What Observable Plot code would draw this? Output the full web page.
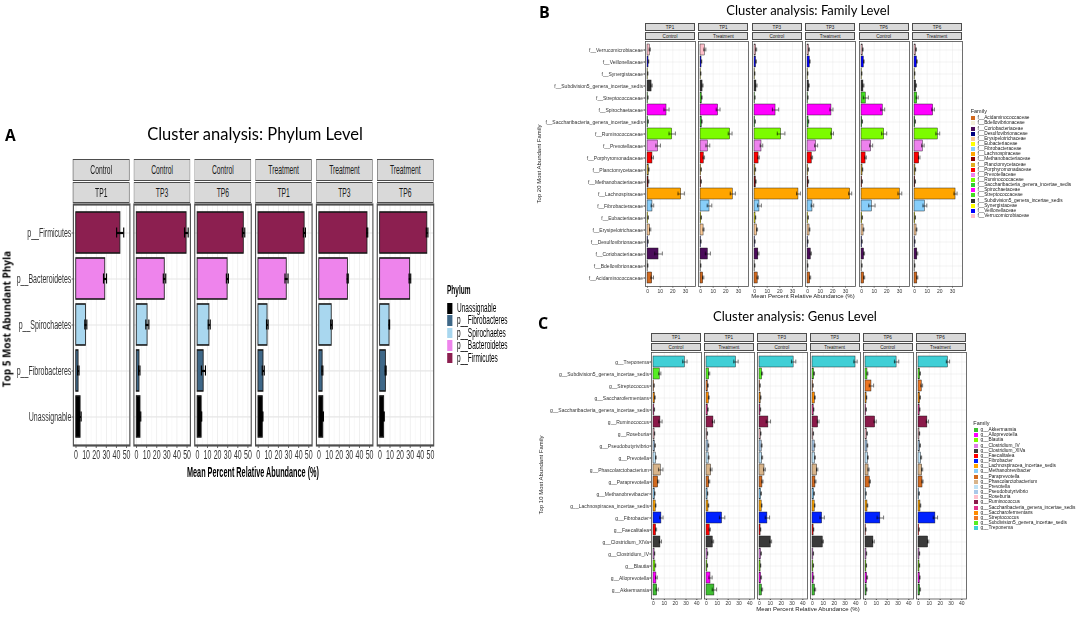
<!DOCTYPE html>
<html><head><meta charset="utf-8">
<script src="https://cdn.jsdelivr.net/npm/d3@7"></script>
<script src="https://cdn.jsdelivr.net/npm/@observablehq/plot@0.6"></script>
<style>
html,body{margin:0;padding:0;background:#fff}
body{width:1084px;height:617px;overflow:hidden;position:relative;font-family:"Liberation Sans",Arial,sans-serif;color:#1a1a1a}
.strip{position:absolute;box-sizing:border-box;border:1px solid #4d4d4d;background:#d9d9d9;text-align:center;white-space:nowrap;color:#1a1a1a}
.c{position:absolute;transform:translate(-50%,-50%);white-space:nowrap}
.rot{position:absolute;transform:translate(-50%,-50%) rotate(-90deg);white-space:nowrap}
.lg{position:absolute;white-space:nowrap}
</style></head><body>
<script>
// ---------------- DATA ----------------
const phylumFacetGroup = ["Control","Control","Control","Treatment","Treatment","Treatment"];
const phylumFacetTime  = ["TP1","TP3","TP6","TP1","TP3","TP6"];
const lowerFacetTime   = ["TP1","TP1","TP3","TP3","TP6","TP6"];
const lowerFacetGroup  = ["Control","Treatment","Control","Treatment","Control","Treatment"];

const phylumTicks = [0,10,20,30,40,50];
const phylumMinor = [5,15,25,35,45];
const familyTicks = [0,10,20,30];
const familyMinor = [5,15,25,35];
const genusTicks  = [0,10,20,30,40];
const genusMinor  = [5,15,25,35];

// Phylum (legend order)
const phyla = ["Unassignable","p__Fibrobacteres","p__Spirochaetes","p__Bacteroidetes","p__Firmicutes"];
const phylumColors = ["#000000","#3f6888","#a9d7ef","#ee84ec","#8c1f50"];
// rows: facets (Control TP1, TP3, TP6, Treatment TP1, TP3, TP6); columns: phyla
const phylumMean = [
  [4.3, 2.3, 9.7, 28.7, 43.7],
  [3.7, 2.7, 10.7, 27.7, 49.3],
  [4.0, 6.0, 11.7, 29.7, 45.7],
  [4.3, 5.0, 9.0, 28.0, 45.7],
  [4.0, 3.3, 12.3, 28.3, 47.7],
  [4.0, 5.7, 9.3, 29.7, 46.7]
];
const phylumErr = [
  [0.8, 0.7, 1.0, 1.5, 3.5],
  [0.5, 0.7, 1.5, 1.2, 1.8],
  [0.3, 2.0, 1.0, 1.0, 1.2],
  [0.4, 1.0, 0.8, 1.5, 1.0],
  [0.3, 0.5, 0.8, 0.6, 0.5],
  [0.3, 0.5, 0.3, 0.8, 0.8]
];

// Family (legend order, alphabetical)
const families = ["f__Acidaminococcaceae","f__Bdellovibrionaceae","f__Coriobacteriaceae","f__Desulfovibrionaceae","f__Erysipelotrichaceae","f__Eubacteriaceae","f__Fibrobacteraceae","f__Lachnospiraceae","f__Methanobacteriaceae","f__Planctomycetaceae","f__Porphyromonadaceae","f__Prevotellaceae","f__Ruminococcaceae","f__Saccharibacteria_genera_incertae_sedis","f__Spirochaetaceae","f__Streptococcaceae","f__Subdivision5_genera_incertae_sedis","f__Synergistaceae","f__Veillonellaceae","f__Verrucomicrobiaceae"];
const familyColors = ["#d2691e","#f3f0d8","#4b0c5a","#000080","#f9c896","#ffff00","#87cefa","#ffa500","#8b0000","#e0b020","#ff0000","#ee82ee","#7cfc00","#32cd32","#ff00ff","#44dd22","#333333","#ffff00","#0000ff","#ffc0cb"];
// rows: facets (TP1 Control, TP1 Treatment, TP3 Control, TP3 Treatment, TP6 Control, TP6 Treatment)
const familyMean = [
  [3.7,0.2,8.7,0.4,2.1,0.5,3.9,26.6,0.8,1.0,3.9,8.4,19.5,0.5,15.0,0.3,3.2,0.2,0.8,1.8],
  [2.1,0.2,5.8,0.3,2.4,0.6,7.1,25.5,0.5,0.5,2.6,5.8,23.4,1.0,13.9,1.0,1.6,0.2,0.8,3.4],
  [2.5,0.2,3.0,0.3,2.0,0.8,3.9,34.7,1.0,0.7,3.2,5.5,21.0,0.5,16.6,0.3,1.5,0.2,1.2,1.3],
  [2.1,0.2,2.6,0.3,1.6,0.5,3.9,33.7,0.7,0.5,3.4,6.8,19.5,0.8,18.9,0.3,1.1,0.2,1.8,1.2],
  [2.1,0.3,2.0,0.4,1.6,0.6,8.2,30.3,0.5,0.8,3.2,7.6,17.9,0.6,16.8,3.4,1.5,0.2,1.8,1.0],
  [2.2,0.2,2.2,0.3,1.6,0.6,8.2,32.4,0.6,0.7,3.7,6.6,18.4,0.6,14.7,2.1,1.3,0.2,1.9,1.2]
];
const familyErr = [
  [1.0,0.1,3.0,0.1,0.5,0.2,1.0,2.5,0.3,0.3,0.8,1.8,2.5,0.2,2.0,0.1,0.5,0.1,0.2,0.5],
  [0.5,0.1,2.0,0.1,0.4,0.2,1.8,2.0,0.2,0.2,0.6,1.5,1.5,0.3,1.5,0.3,0.4,0.1,0.2,0.8],
  [0.5,0.1,0.5,0.1,0.4,0.2,1.5,1.5,0.3,0.2,0.6,1.0,3.0,0.2,2.5,0.1,0.5,0.1,0.2,0.4],
  [0.4,0.1,0.5,0.1,0.3,0.2,1.0,1.2,0.2,0.2,0.6,1.2,1.0,0.2,1.2,0.1,0.3,0.1,0.3,0.3],
  [0.4,0.1,0.4,0.1,0.3,0.2,2.5,1.5,0.2,0.2,0.6,1.2,2.0,0.2,1.5,2.0,0.4,0.1,0.3,0.3],
  [0.4,0.1,0.4,0.1,0.3,0.2,1.5,1.2,0.2,0.2,0.6,1.0,1.5,0.2,1.0,0.8,0.3,0.1,0.3,0.3]
];

// Genus (legend order, alphabetical)
const genera = ["g__Akkermansia","g__Alloprevotella","g__Blautia","g__Clostridium_IV","g__Clostridium_XIVa","g__Faecalitalea","g__Fibrobacter","g__Lachnospiracea_incertae_sedis","g__Methanobrevibacter","g__Paraprevotella","g__Phascolarctobacterium","g__Prevotella","g__Pseudobutyrivibrio","g__Roseburia","g__Ruminococcus","g__Saccharibacteria_genera_incertae_sedis","g__Saccharofermentans","g__Streptococcus","g__Subdivision5_genera_incertae_sedis","g__Treponema"];
const genusColors = ["#3fbf32","#ff00ff","#7cfc00","#e07be8","#3a3a3a","#ff0000","#0022ff","#ffa500","#87cefa","#d2691e","#d8b48a","#bfe2f6","#a8c8e8","#ffc0cb","#8b1a4a","#e0338c","#ff8c00","#ee7722","#55ee22","#40cfd6"];
const genusMean = [
  [3.4,2.7,1.8,1.0,6.4,2.4,7.3,2.0,1.2,4.3,6.7,2.2,1.5,1.0,6.4,0.8,1.3,0.5,5.8,29.0],
  [7.3,3.7,0.8,1.0,5.8,3.0,14.4,1.8,1.0,2.5,4.3,2.0,1.8,0.8,6.4,1.3,2.1,1.3,2.5,27.2],
  [2.3,1.5,1.0,1.5,10.4,1.0,7.3,2.0,1.5,2.7,4.6,2.5,2.0,1.2,8.2,0.9,1.1,0.5,2.4,31.5],
  [2.3,1.0,0.8,0.8,9.5,1.0,8.9,2.0,1.5,2.7,4.3,2.3,2.0,0.8,5.2,1.1,2.2,0.5,1.5,39.7],
  [1.0,1.5,0.8,0.9,7.3,0.3,13.7,1.8,0.5,4.0,2.8,2.2,1.8,1.5,8.9,0.6,1.0,5.5,1.8,28.7],
  [1.5,1.2,0.9,0.9,8.9,0.6,15.6,1.8,0.6,3.7,3.4,2.5,1.5,0.9,8.2,1.1,1.5,3.0,1.5,27.2]
];
const genusErr = [
  [1.0,0.8,0.3,0.2,1.0,0.5,1.5,0.3,0.2,0.6,2.0,0.3,0.3,0.2,1.5,0.2,0.3,0.1,1.0,2.0],
  [2.0,1.5,0.2,0.2,0.8,0.6,2.5,0.3,0.2,0.5,0.8,0.4,0.3,0.2,1.0,0.3,0.4,0.3,0.5,2.0],
  [0.6,0.4,0.2,0.3,0.8,0.2,2.0,0.3,0.3,0.5,0.8,0.4,0.4,0.2,2.0,0.2,0.3,0.1,0.5,2.0],
  [0.6,0.3,0.2,0.2,0.6,0.2,2.0,0.3,0.3,0.5,0.6,0.4,0.4,0.2,0.8,0.2,0.4,0.1,0.3,1.5],
  [0.3,0.4,0.2,0.2,0.8,0.1,3.0,0.3,0.1,0.6,0.5,0.4,0.3,0.3,1.0,0.2,0.2,2.0,0.4,2.0],
  [0.4,0.3,0.2,0.2,0.6,0.2,2.0,0.3,0.2,0.5,0.5,0.4,0.3,0.2,1.0,0.3,0.3,0.8,0.3,1.5]
];

// ---------------- HELPERS ----------------
const FONT = '"Liberation Sans", Arial, sans-serif';
function el(parent, cls, css, text) {
  const d = document.createElement("div");
  if (cls) d.className = cls;
  d.style.position = "absolute";
  Object.assign(d.style, css);
  if (text != null) d.textContent = text;
  parent.appendChild(d);
  return d;
}
function facet(cfg) {
  const {cats, colors, mean, err, xDomain, ticks, minor, w, h, ml, mb, fs, showY,
         capFrac, lwGrid, lwBar, lwErr, lwFrame, tickSize} = cfg;
  const order = cats.slice().reverse();
  const rows = cats.map((c, i) => ({cat: c, v: mean[i], e: err[i]}));
  const n = cats.length;
  const step = h / (n - 0.1 + 0.3);
  const inset = step * 0.9 * (1 - capFrac) / 2;
  return Plot.plot({
    width: ml + w, height: h + mb,
    marginLeft: ml, marginRight: 0, marginTop: 0, marginBottom: mb,
    style: {fontSize: fs + "px", fontFamily: FONT, color: "#333", background: "transparent", overflow: "visible"},
    x: {domain: xDomain, ticks: ticks, tickSize: tickSize, tickPadding: 1, tickFormat: d => String(d), label: null},
    y: {domain: order, paddingInner: 0.1, paddingOuter: 0.15, tickSize: tickSize, tickPadding: 1, label: null, axis: showY ? "left" : null},
    color: {domain: cats, range: colors},
    marks: [
      Plot.frame({fill: "white"}),
      Plot.ruleX(minor, {stroke: "#f3f3f3", strokeWidth: lwGrid * 0.6}),
      Plot.ruleX(ticks, {stroke: "#e6e6e6", strokeWidth: lwGrid}),
      Plot.ruleY(order, {stroke: "#e6e6e6", strokeWidth: lwGrid}),
      Plot.barX(rows, {x1: 0, x2: "v", y: "cat", fill: "cat", stroke: "#1a1a1a", strokeWidth: lwBar}),
      Plot.ruleY(rows, {y: "cat", x1: d => d.v - d.e, x2: d => d.v + d.e, stroke: "#000", strokeWidth: lwErr}),
      Plot.tickX(rows, {y: "cat", x: d => d.v - d.e, insetTop: inset, insetBottom: inset, stroke: "#000", strokeWidth: lwErr}),
      Plot.tickX(rows, {y: "cat", x: d => d.v + d.e, insetTop: inset, insetBottom: inset, stroke: "#000", strokeWidth: lwErr}),
      Plot.frame({stroke: "#4d4d4d", strokeWidth: lwFrame})
    ]
  });
}
function placeSvg(parent, svg, left, top) {
  const d = el(parent, null, {left: left + "px", top: top + "px"});
  d.appendChild(svg);
  return d;
}

const body = document.body;

// ---------------- PANEL A (horizontally condensed, like the source image) ----------------
const S = 0.52;
const A = el(body, null, {left: "0px", top: "0px", width: (540 / S) + "px", height: "617px", transform: `scaleX(${S})`, transformOrigin: "0 0"});
const aLefts = [73, 133.8, 194.6, 255.4, 316.2, 377];
const aW = 56.5, aTop = 203.5, aH = 241;
for (let i = 0; i < 6; i++) {
  const L = aLefts[i] / S, W = aW / S;
  el(A, "strip", {left: L + "px", top: "159.3px", width: W + "px", height: "21.5px", lineHeight: "19.5px", fontSize: "13px", borderWidth: "1.5px"}, phylumFacetGroup[i]);
  el(A, "strip", {left: L + "px", top: "181.6px", width: W + "px", height: "21.7px", lineHeight: "19.7px", fontSize: "13px", borderWidth: "1.5px"}, phylumFacetTime[i]);
  const ml = i === 0 ? 70 / S : 0;
  const svg = facet({cats: phyla, colors: phylumColors, mean: phylumMean[i], err: phylumErr[i],
    xDomain: [-2.6, 53.3], ticks: phylumTicks, minor: phylumMinor, w: W, h: aH, ml, mb: 26, fs: 13.5, showY: i === 0,
    capFrac: 0.26, lwGrid: 1.2, lwBar: 1.6, lwErr: 2.2, lwFrame: 2.2, tickSize: 3});
  placeSvg(A, svg, L - ml, aTop);
}
el(A, "c", {left: (253 / S) + "px", top: "471.5px", fontSize: "14px", fontWeight: "bold", color: "#000"}, "Mean Percent Relative Abundance (%)");
// legend A
el(A, "lg", {left: (447 / S) + "px", top: "283px", fontSize: "12.5px", fontWeight: "bold", color: "#000"}, "Phylum");
phyla.forEach((p, i) => {
  const cy = 308.3 + i * 12.45;
  el(A, "lg", {left: (447 / S) + "px", top: (cy - 5.3) + "px", width: "10px", height: "10.6px", background: phylumColors[i]});
  el(A, "lg", {left: (457 / S) + "px", top: (cy - 7.5) + "px", fontSize: "12.5px", lineHeight: "15px", color: "#000"}, p);
});
// non-condensed texts of panel A
el(body, "lg", {left: "5px", top: "124px", fontSize: "15.5px", fontWeight: "bold", fontFamily: '"Open Sans", sans-serif', color: "#000"}, "A");
el(body, "c", {left: "255px", top: "134px", fontSize: "16.5px", fontFamily: 'Lato, "Open Sans", sans-serif', color: "#000"}, "Cluster analysis: Phylum Level");
el(body, "rot", {left: "7px", top: "319px", fontSize: "9.8px", fontWeight: "bold", letterSpacing: "0.1px", fontFamily: '"Open Sans", sans-serif', color: "#000"}, "Top 5 Most Abundant Phyla");

// ---------------- PANEL B ----------------
for (let i = 0; i < 6; i++) {
  const L = 645 + i * 53.4;
  el(body, "strip", {left: L + "px", top: "22.7px", width: "50px", height: "8.5px", lineHeight: "7.5px", fontSize: "4.6px", borderWidth: "0.6px"}, lowerFacetTime[i]);
  el(body, "strip", {left: L + "px", top: "31.5px", width: "50px", height: "8.7px", lineHeight: "7.7px", fontSize: "4.6px", borderWidth: "0.6px"}, lowerFacetGroup[i]);
  const ml = i === 0 ? 125 : 0;
  const svg = facet({cats: families, colors: familyColors, mean: familyMean[i], err: familyErr[i],
    xDomain: [-1.6, 37.9], ticks: familyTicks, minor: familyMinor, w: 50, h: 245, ml, mb: 9, fs: 5, showY: i === 0,
    capFrac: 0.35, lwGrid: 0.45, lwBar: 0.45, lwErr: 0.55, lwFrame: 0.8, tickSize: 1.5});
  placeSvg(body, svg, L - ml, 40.5);
}
el(body, "lg", {left: "539px", top: "1px", fontSize: "16px", fontWeight: "bold", fontFamily: '"Open Sans", sans-serif', color: "#000"}, "B");
el(body, "c", {left: "808px", top: "9.5px", fontSize: "13px", fontFamily: 'Lato, "Open Sans", sans-serif', color: "#000"}, "Cluster analysis: Family Level");
el(body, "c", {left: "803px", top: "296px", fontSize: "6px", color: "#1a1a1a"}, "Mean Percent Relative Abundance (%)");
el(body, "rot", {left: "538.5px", top: "164px", fontSize: "6px", color: "#1a1a1a"}, "Top 20 Most Abundant Family");
el(body, "lg", {left: "970.7px", top: "107.5px", fontSize: "5.5px", color: "#1a1a1a"}, "Family");
families.forEach((f, i) => {
  const cy = 118.3 + i * 5.14;
  el(body, "lg", {left: "970.8px", top: (cy - 2) + "px", width: "4px", height: "4px", background: familyColors[i]});
  el(body, "lg", {left: "977.5px", top: (cy - 3) + "px", fontSize: "4.8px", lineHeight: "6px", color: "#1a1a1a"}, f);
});

// ---------------- PANEL C ----------------
for (let i = 0; i < 6; i++) {
  const L = 651 + i * 52.9;
  el(body, "strip", {left: L + "px", top: "333px", width: "50px", height: "8.8px", lineHeight: "7.8px", fontSize: "4.6px", borderWidth: "0.6px"}, lowerFacetTime[i]);
  el(body, "strip", {left: L + "px", top: "342.5px", width: "50px", height: "8.9px", lineHeight: "7.9px", fontSize: "4.6px", borderWidth: "0.6px"}, lowerFacetGroup[i]);
  const ml = i === 0 ? 130 : 0;
  const svg = facet({cats: genera, colors: genusColors, mean: genusMean[i], err: genusErr[i],
    xDomain: [-1.85, 44.3], ticks: genusTicks, minor: genusMinor, w: 50, h: 246.5, ml, mb: 9, fs: 5, showY: i === 0,
    capFrac: 0.35, lwGrid: 0.45, lwBar: 0.45, lwErr: 0.55, lwFrame: 0.8, tickSize: 1.5});
  placeSvg(body, svg, L - ml, 351.5);
}
el(body, "lg", {left: "538px", top: "312px", fontSize: "16px", fontWeight: "bold", fontFamily: '"Open Sans", sans-serif', color: "#000"}, "C");
el(body, "c", {left: "795px", top: "316px", fontSize: "13px", fontFamily: 'Lato, "Open Sans", sans-serif', color: "#000"}, "Cluster analysis: Genus Level");
el(body, "c", {left: "808px", top: "609.3px", fontSize: "6px", color: "#1a1a1a"}, "Mean Percent Relative Abundance (%)");
el(body, "rot", {left: "541px", top: "475px", fontSize: "6px", color: "#1a1a1a"}, "Top 10 Most Abundant Family");
el(body, "lg", {left: "973.3px", top: "419.5px", fontSize: "5.5px", color: "#1a1a1a"}, "Family");
genera.forEach((g, i) => {
  const cy = 430 + i * 5.17;
  el(body, "lg", {left: "974px", top: (cy - 2) + "px", width: "4px", height: "4px", background: genusColors[i]});
  el(body, "lg", {left: "980.5px", top: (cy - 3) + "px", fontSize: "4.8px", lineHeight: "6px", color: "#1a1a1a"}, g);
});
</script>
</body></html>
